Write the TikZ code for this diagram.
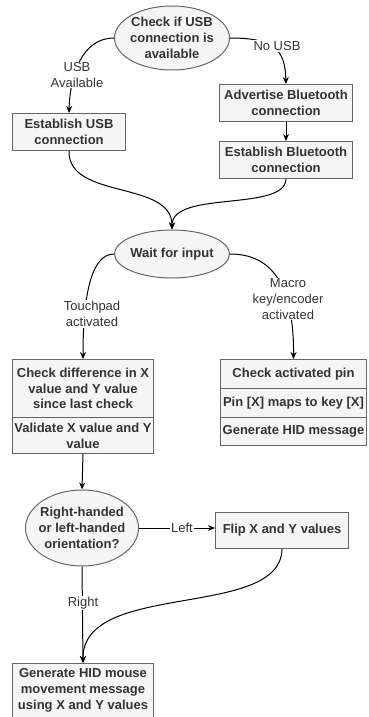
\documentclass[tikz,border=0pt]{standalone}
\usepackage{fontspec}
\setmainfont{Liberation Sans}
\usetikzlibrary{shapes.geometric,arrows.meta}
\definecolor{fillg}{HTML}{F5F5F5}
\definecolor{strk}{HTML}{666666}
\definecolor{txtc}{HTML}{333333}
\begin{document}
\begin{tikzpicture}[x=1pt,y=-1pt,
 ell/.style={ellipse, draw=strk, fill=fillg, line width=1pt, inner sep=0pt},
 box/.style={rectangle, draw=strk, fill=fillg, line width=1pt, inner sep=0pt, anchor=north west,
   text=txtc, font=\fontsize{13}{15.7}\selectfont\bfseries, align=center},
 txt/.style={text=txtc, font=\fontsize{13}{15.7}\selectfont\bfseries, align=center, inner sep=0pt},
 lbl/.style={text=txtc, font=\fontsize{13}{15.7}\selectfont, align=center, fill=white, inner sep=1pt},
 arr/.style={-{Stealth[length=7pt,width=6pt]}, line width=1pt, black}]
\useasboundingbox (0,0) rectangle (368,717);

% nodes
\node[ell, minimum width=115pt, minimum height=64pt] (c1) at (172,38) {};
\node[txt] (c1t) at (c1) {Check if USB\\connection is\\available};
\node[box, minimum width=113pt, minimum height=37pt] (usb) at (12,113) {Establish USB\\connection};
\node[box, minimum width=133pt, minimum height=37pt] (adv) at (219,84) {Advertise Bluetooth\\connection};
\node[box, minimum width=133pt, minimum height=37pt] (bt) at (219,141) {Establish Bluetooth\\connection};
\node[ell, minimum width=115pt, minimum height=48pt] (wait) at (172,254) {};
\node[txt] (waitt) at (wait) {Wait for input};
\node[box, minimum width=141pt, minimum height=58pt] (chk) at (12,359) {Check difference in X\\value and Y value\\since last check};
\node[box, minimum width=141pt, minimum height=36pt] (val) at (12,417) {Validate X value and Y\\value};
\node[box, minimum width=146pt, minimum height=29pt] (pin1) at (220,359) {Check activated pin};
\node[box, minimum width=146pt, minimum height=29pt] (pin2) at (220,388) {Pin [X] maps to key [X]};
\node[box, minimum width=146pt, minimum height=28pt] (pin3) at (220,417) {Generate HID message};
\node[ell, minimum width=113pt, minimum height=76pt] (orient) at (82,528) {};
\node[txt] (orientt) at (orient) {Right-handed\\or left-handed\\orientation?};
\node[box, minimum width=133pt, minimum height=36pt] (flip) at (215,512) {Flip X and Y values};
\node[box, minimum width=141pt, minimum height=54pt] (gen) at (12,663) {Generate HID mouse\\movement message\\using X and Y values};

% edges
\draw[arr] (c1.west) .. controls (82,38) and (70,75) .. (usb.north);
\draw[arr] (c1.east) .. controls (275,38) and (285,50) .. (adv.north);
\draw[arr] (adv.south) -- (bt.north);
\draw[arr] (usb.south) .. controls (68,200) and (172,180) .. (wait.north);
\draw[arr] (bt.south) .. controls (285,212) and (172,190) .. (wait.north);
\draw[arr] (wait.west) .. controls (90,254) and (83,300) .. (chk.north);
\draw[arr] (wait.east) .. controls (272,254) and (294,285) .. (pin1.north);
\draw[arr] (val.south) -- (orient.north);
\draw[arr] (orient.east) -- (orient.east -| flip.west);
\draw[arr] (flip.south) .. controls (281,620) and (82,580) .. (gen.north);
\draw[arr] (orient.south) -- (gen.north);

% labels
\node[lbl] (lusb) at (77,75) {USB\\Available};
\node[lbl] (lnousb) at (277,46) {No USB};
\node[lbl] (ltouch) at (92,314) {Touchpad\\activated};
\node[lbl] (lmacro) at (288,299) {Macro\\key/encoder\\activated};
\node[lbl] (lleft) at (182,528) {Left};
\node[lbl] (lright) at (83,603) {Right};
\end{tikzpicture}
\end{document}
